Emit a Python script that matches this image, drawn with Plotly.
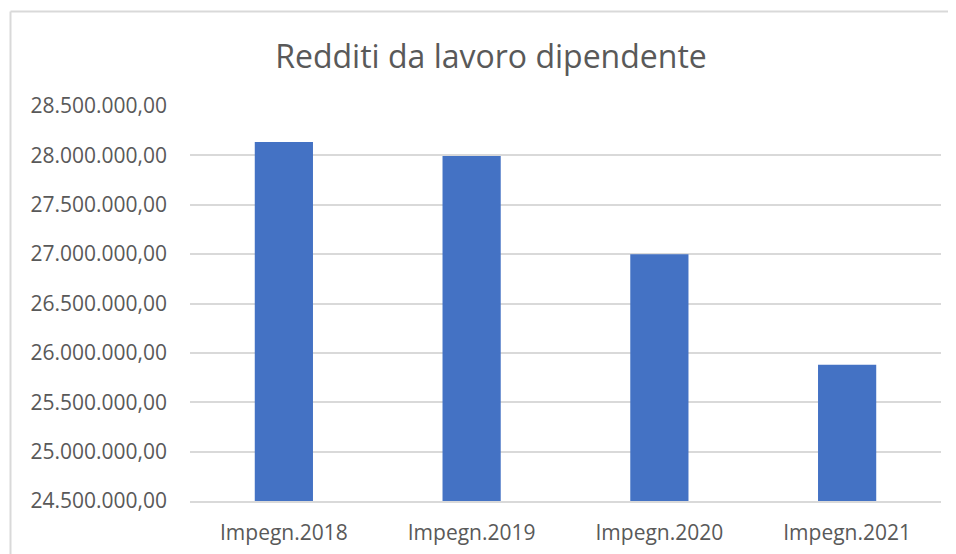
import plotly.graph_objects as go

categories = ["Impegn.2018", "Impegn.2019", "Impegn.2020", "Impegn.2021"]
values = [28136000, 27994000, 27000000, 25880000]
title_text = "Redditi da lavoro dipendente"

OFF = 8  # page body offset
W, H = 956, 554
L, R, T, B = 190 - OFF, 23, 106 - OFF, 61
pw = W - L - R
ph = H - T - B

fig = go.Figure()
fig.add_trace(go.Bar(x=categories, y=values, marker=dict(color="#4472C4", line=dict(width=0)),
                     width=0.31))

fnt = "Open Sans, DejaVu Sans, sans-serif"
fig.update_layout(
    width=W, height=H,
    margin=dict(l=L, r=R, t=T, b=B),
    paper_bgcolor="white", plot_bgcolor="white",
    separators=",.",
    showlegend=False,
    title=dict(text=title_text, x=(491 - OFF) / W, xanchor="center",
               y=1 - (57 - OFF) / H, yanchor="middle",
               font=dict(family=fnt, size=32, color="#595959")),
    font=dict(family=fnt, color="#595959"),
)
fig.update_yaxes(range=[24500000, 28500000], dtick=500000, tickformat=",.2f",
                 showgrid=True, gridcolor="#d9d9d9", gridwidth=1.5,
                 zeroline=False, showline=False,
                 tickfont=dict(size=21, color="#595959"), ticklabelstandoff=22)
fig.update_xaxes(showgrid=False, showline=True, linecolor="#d9d9d9", linewidth=1.5,
                 tickfont=dict(size=21, color="#595959"), ticklabelstandoff=12)

# chart border (top and left edges visible)
x0 = (10.5 - OFF - L) / pw
y1 = 1 + (T - (11.5 - OFF)) / ph
fig.add_shape(type="line", xref="paper", yref="paper", x0=x0, x1=(W - L) / pw + 0.01,
              y0=y1, y1=y1, line=dict(color="#d9d9d9", width=2))
fig.add_shape(type="line", xref="paper", yref="paper", x0=x0, x1=x0,
              y0=y1, y1=-B / ph - 0.01, line=dict(color="#d9d9d9", width=2))

fig.write_html("out.html")
